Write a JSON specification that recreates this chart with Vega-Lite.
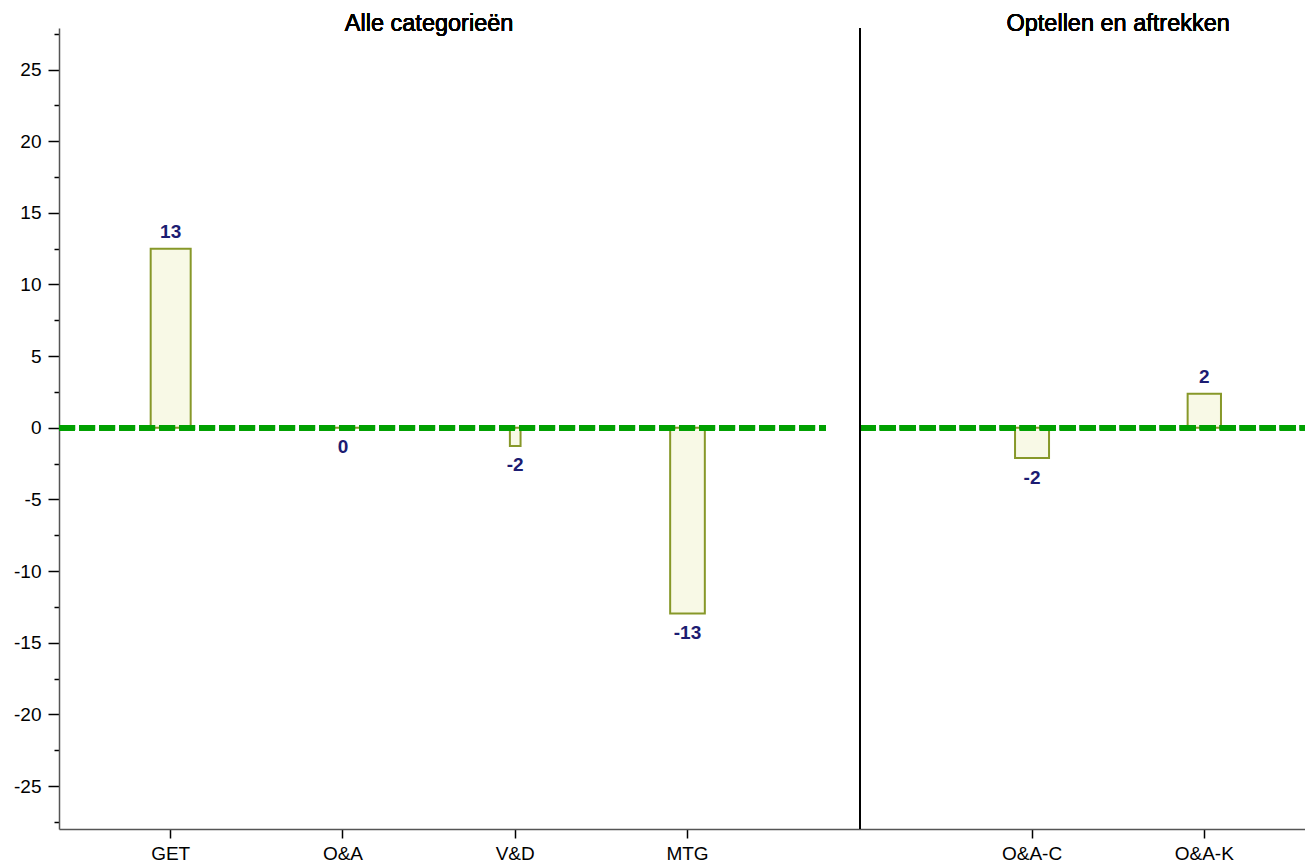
{
  "$schema": "https://vega.github.io/schema/vega-lite/v6.json",
  "autosize": {"type": "none"},
  "padding": {"left": 59, "top": 28, "right": 0, "bottom": 33},
  "width": 1246,
  "height": 801,
  "background": "white",
  "config": {
    "view": {"stroke": null},
    "font": "Liberation Sans",
    "text": {"font": "Liberation Sans"}
  },
  "data": {
    "values": [
      {"categorie": "GET", "verschil": 12.5, "label": "13", "aantal": 12},
      {"categorie": "O&A", "verschil": 0, "label": "0", "aantal": 10},
      {"categorie": "V&D", "verschil": -1.27, "label": "-2", "aantal": 3.2},
      {"categorie": "MTG", "verschil": -12.96, "label": "-13", "aantal": 10.4},
      {"categorie": "O&A-C", "verschil": -2.11, "label": "-2", "aantal": 10.2},
      {"categorie": "O&A-K", "verschil": 2.38, "label": "2", "aantal": 10}
    ]
  },
  "encoding": {
    "x": {
      "field": "categorie",
      "type": "nominal",
      "scale": {
        "domain": ["GET", "O&A", "V&D", "MTG", " ", "O&A-C", "O&A-K"],
        "paddingInner": 0,
        "paddingOuter": 0.1164,
        "align": 0.637
      },
      "axis": {
        "values": ["GET", "O&A", "V&D", "MTG", "O&A-C", "O&A-K"],
        "title": null,
        "labelAngle": 0,
        "labelFont": "Liberation Sans",
        "labelFontSize": 19,
        "labelColor": "#000000",
        "labelPadding": 6,
        "tickSize": 9,
        "tickWidth": 1.5,
        "tickColor": "#000000",
        "domainColor": "#555555",
        "domainWidth": 1.5,
        "grid": false
      }
    },
    "y": {
      "field": "verschil",
      "type": "quantitative",
      "scale": {"domain": [-28, 27.9], "nice": false, "zero": false},
      "axis": {
        "title": null,
        "values": [-27.5, -25, -22.5, -20, -17.5, -15, -12.5, -10, -7.5, -5, -2.5, 0, 2.5, 5, 7.5, 10, 12.5, 15, 17.5, 20, 22.5, 25, 27.5],
        "labelExpr": "datum.value % 5 === 0 ? '' + datum.value : ''",
        "labelFont": "Liberation Sans",
        "labelFontSize": 19,
        "labelColor": "#000000",
        "labelPadding": 7,
        "tickSize": {"condition": {"test": "datum.value % 5 === 0", "value": 11}, "value": 5},
        "tickWidth": 1.5,
        "tickColor": "#000000",
        "domainColor": "#555555",
        "domainWidth": 1.5,
        "grid": false
      }
    }
  },
  "layer": [
    {
      "mark": {"type": "bar", "fill": "#f8f9e6", "stroke": "#879829", "strokeWidth": 2},
      "encoding": {
        "size": {"field": "aantal", "type": "quantitative", "scale": {"domain": [0, 12], "range": [0, 40], "zero": true}, "legend": null}
      }
    },
    {
      "mark": {"type": "rule", "color": "#00a000", "strokeWidth": 5.5, "strokeDash": [16, 4], "strokeCap": "butt"},
      "encoding": {
        "x": {"datum": "GET", "bandPosition": -0.148},
        "x2": {"datum": " ", "bandPosition": 0.304},
        "y": {"datum": 0}
      }
    },
    {
      "mark": {"type": "rule", "color": "#00a000", "strokeWidth": 5.5, "strokeDash": [16, 4], "strokeCap": "butt"},
      "encoding": {
        "x": {"datum": " ", "bandPosition": 0.5},
        "x2": {"datum": "O&A-K", "bandPosition": 1.084},
        "y": {"datum": 0}
      }
    },
    {
      "mark": {"type": "rule", "color": "#000000", "strokeWidth": 1.5},
      "encoding": {
        "x": {"datum": " "},
        "y": null
      }
    },
    {
      "transform": [{"filter": "datum.verschil > 0"}],
      "mark": {"type": "text", "baseline": "alphabetic", "align": "center", "dy": -11, "fontSize": 19, "fontWeight": "bold", "fill": "#1c1c72"},
      "encoding": {"text": {"field": "label"}}
    },
    {
      "transform": [{"filter": "datum.verschil <= 0"}],
      "mark": {"type": "text", "baseline": "alphabetic", "align": "center", "dy": 25.5, "fontSize": 19, "fontWeight": "bold", "fill": "#1c1c72"},
      "encoding": {"text": {"field": "label"}}
    },
    {
      "mark": {"type": "text", "text": "Alle categorieën", "fontSize": 23.5, "fontWeight": 400, "font": "Liberation Sans", "baseline": "alphabetic", "align": "center", "fill": "#000000", "strokeWidth": 0},
      "encoding": {
        "x": {"datum": "O&A", "bandPosition": 1},
        "y": {"datum": 27.69}
      }
    },
    {
      "mark": {"type": "text", "text": "Optellen en aftrekken", "fontSize": 23.5, "fontWeight": 400, "font": "Liberation Sans", "baseline": "alphabetic", "align": "center", "fill": "#000000", "strokeWidth": 0},
      "encoding": {
        "x": {"datum": "O&A-C", "bandPosition": 1},
        "y": {"datum": 27.69}
      }
    }
  ]
}
